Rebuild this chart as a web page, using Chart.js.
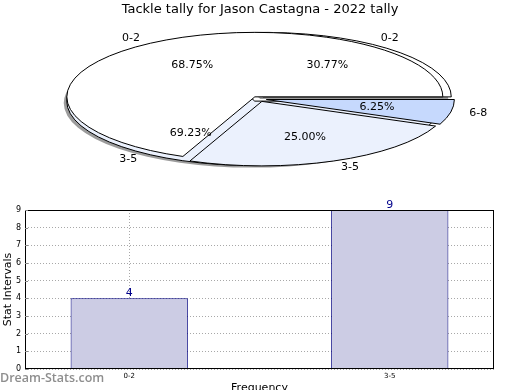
<!DOCTYPE html>
<html>
<head>
<meta charset="utf-8">
<script src="https://cdn.jsdelivr.net/npm/chart.js@4/dist/chart.umd.min.js"></script>
<style>
  html, body { margin: 0; padding: 0; background: #fff; overflow: hidden; }
  body { width: 520px; height: 390px; position: relative; font-family: 'DejaVu Sans', sans-serif; }
  canvas { position: absolute; left: 0; }
  #pieBack, #pieFront { top: 0; }
  #bars { top: 195px; }
  #mark { position: absolute; left: 0; top: 370px; font: 600 12.5px 'Open Sans', sans-serif; color: #8e8e8e; line-height: 16px; }
</style>
</head>
<body>
<canvas id="pieBack" width="520" height="195"></canvas>
<canvas id="pieFront" width="520" height="195"></canvas>
<canvas id="bars" width="520" height="200"></canvas>
<div id="mark">Dream-Stats.com</div>
<script>
const titleText = 'Tackle tally for Jason Castagna - 2022 tally';

// front pie (all tackles)
const frontLabels = ['0-2', '3-5', '6-8'];
const frontValues = [11, 4, 1];
const frontColors = ['#ffffff', '#ebf1fd', '#c6d9fd'];

// back pie (same as the bars)
const backLabels = ['0-2', '3-5'];
const backValues = [4, 9];
const backColors = ['#ffffff', '#ebf1fd'];

// bar chart
const barLabels = ['0-2', '3-5'];
const barValues = [4, 9];

const CX = 259, CY = 99, RX = 188, RY = 64.5;
const EXPLODE = 0.04;

function shiftOf(a) {
  const mid = (a.startAngle + a.endAngle) / 2;
  return [EXPLODE * RX * Math.cos(mid), EXPLODE * RY * Math.sin(mid), mid];
}

// draws every wedge of the pie squashed into an exploded ellipse
function ellipsePie(shadow) {
  return {
    id: 'ellipsePie',
    beforeDatasetsDraw(chart) {
      const ctx = chart.ctx;
      const arcs = chart.getDatasetMeta(0).data;
      if (shadow) {
        ctx.save();
        ctx.fillStyle = 'rgba(90,90,90,0.6)';
        arcs.forEach(a => {
          const [dx, dy] = shiftOf(a);
          ctx.beginPath();
          ctx.moveTo(CX + dx - 3, CY + dy + 2);
          ctx.ellipse(CX + dx - 3, CY + dy + 2, RX, RY, 0, a.startAngle, a.endAngle);
          ctx.closePath();
          ctx.fill();
        });
        ctx.restore();
      }
      arcs.forEach(a => {
        const [dx, dy] = shiftOf(a);
        ctx.save();
        ctx.translate(CX + dx, CY + dy);
        ctx.scale(RX / a.outerRadius, RY / a.outerRadius);
        ctx.translate(-a.x, -a.y);
        a.draw(ctx);
        ctx.restore();
      });
      ctx.save();
      ctx.strokeStyle = '#000';
      ctx.lineWidth = 1;
      arcs.forEach(a => {
        const [dx, dy] = shiftOf(a);
        ctx.beginPath();
        ctx.moveTo(CX + dx, CY + dy);
        ctx.ellipse(CX + dx, CY + dy, RX, RY, 0, a.startAngle, a.endAngle);
        ctx.closePath();
        ctx.stroke();
      });
      ctx.restore();
      return false;
    }
  };
}

// matplotlib-like labels: name outside, percent inside
function drawPieLabels(ctx, chart, names) {
  const meta = chart.getDatasetMeta(0);
  const vals = chart.data.datasets[0].data;
  const total = vals.reduce((s, v) => s + v, 0);
  ctx.save();
  ctx.fillStyle = '#000';
  ctx.font = '11px "DejaVu Sans"';
  ctx.textBaseline = 'middle';
  meta.data.forEach((a, i) => {
    const [dx, dy, mid] = shiftOf(a);
    const c = Math.cos(mid), s = Math.sin(mid);
    ctx.textAlign = c >= 0 ? 'left' : 'right';
    ctx.fillText(names[i], CX + dx + 1.1 * RX * c, CY + dy + 1.1 * RY * s);
    ctx.textAlign = 'center';
    ctx.fillText((vals[i] / total * 100).toFixed(2) + '%', CX + dx + 0.6 * RX * c, CY + dy + 0.6 * RY * s);
  });
  ctx.restore();
}

const pieOpts = {
  responsive: false,
  animation: false,
  events: [],
  rotation: 90,
  plugins: { legend: { display: false }, tooltip: { enabled: false } }
};

// library goes clockwise, matplotlib counter-clockwise: reverse order
const rev = a => a.slice().reverse();

const backChart = new Chart(document.getElementById('pieBack'), {
  type: 'pie',
  data: {
    labels: rev(backLabels),
    datasets: [{ data: rev(backValues), backgroundColor: rev(backColors), borderWidth: 0 }]
  },
  options: pieOpts,
  plugins: [ellipsePie(true)]
});

new Chart(document.getElementById('pieFront'), {
  type: 'pie',
  data: {
    labels: rev(frontLabels),
    datasets: [{ data: rev(frontValues), backgroundColor: rev(frontColors), borderWidth: 0 }]
  },
  options: {
    ...pieOpts,
    plugins: {
      legend: { display: false },
      tooltip: { enabled: false },
      title: { display: true, text: titleText, color: '#000', font: { family: 'DejaVu Sans', size: 13, weight: 'normal' }, padding: { top: 2, bottom: 4 } }
    }
  },
  plugins: [ellipsePie(false), {
    id: 'labels',
    afterDraw(chart) {
      drawPieLabels(chart.ctx, backChart, rev(backLabels));
      drawPieLabels(chart.ctx, chart, rev(frontLabels));
    }
  }]
});

const barBox = {
  id: 'barBox',
  afterDraw(chart) {
    const { ctx, chartArea: a } = chart;
    ctx.save();
    ctx.strokeStyle = '#000';
    ctx.lineWidth = 1;
    ctx.strokeRect(a.left + 0.5, a.top + 0.5, a.right - a.left - 1, a.bottom - a.top - 1);
    // small inward ticks on the y axis
    ctx.strokeStyle = '#888';
    chart.scales.y.ticks.forEach(t => {
      const y = Math.round(chart.scales.y.getPixelForValue(t.value)) + 0.5;
      ctx.beginPath();
      ctx.moveTo(a.left, y);
      ctx.lineTo(a.left + 3, y);
      ctx.stroke();
    });
    // value labels
    ctx.fillStyle = '#00008b';
    ctx.font = '11px "DejaVu Sans"';
    ctx.textAlign = 'center';
    ctx.textBaseline = 'middle';
    chart.getDatasetMeta(0).data.forEach((b, i) => {
      ctx.fillText(String(barValues[i]), b.x, b.y - 5);
    });
    ctx.restore();
  }
};

new Chart(document.getElementById('bars'), {
  type: 'bar',
  data: {
    datasets: [{
      data: barValues.map((v, i) => ({ x: i, y: v })),
      backgroundColor: '#ccccE4',
      borderColor: '#00007f',
      borderWidth: 1,
      borderSkipped: 'bottom',
      categoryPercentage: 0.45,
      barPercentage: 1
    }]
  },
  options: {
    responsive: false,
    animation: false,
    events: [],
    layout: { padding: { top: 15, right: 26, left: 0, bottom: 0 } },
    plugins: { legend: { display: false }, tooltip: { enabled: false } },
    scales: {
      x: {
        type: 'linear',
        min: -0.4,
        max: 1.4,
        offset: false,
        z: 1,
        afterBuildTicks: s => { s.ticks = barLabels.map((_, i) => ({ value: i })); },
        afterFit: s => { s.height = 26; },
        ticks: { callback: v => barLabels[v], color: '#000', font: { family: 'DejaVu Sans', size: 7 }, padding: 3, maxRotation: 0 },
        grid: { color: '#a8a8a8', lineWidth: 1, drawTicks: false, offset: false },
        border: { display: false, dash: [1, 2] },
        title: { display: true, text: 'Frequency', color: '#000', font: { family: 'DejaVu Sans', size: 11 }, padding: 0 }
      },
      y: {
        min: 0,
        max: 9,
        z: 1,
        afterFit: s => { s.width = 25; },
        ticks: { stepSize: 1, color: '#000', font: { family: 'DejaVu Sans', size: 8 }, padding: 4 },
        grid: { color: '#a8a8a8', lineWidth: 1, drawTicks: false },
        border: { display: false, dash: [1, 2] },
        title: { display: true, text: 'Stat Intervals', color: '#000', font: { family: 'DejaVu Sans', size: 11 }, padding: { top: 2, bottom: 0 } }
      }
    }
  },
  plugins: [barBox]
});
</script>
</body>
</html>
